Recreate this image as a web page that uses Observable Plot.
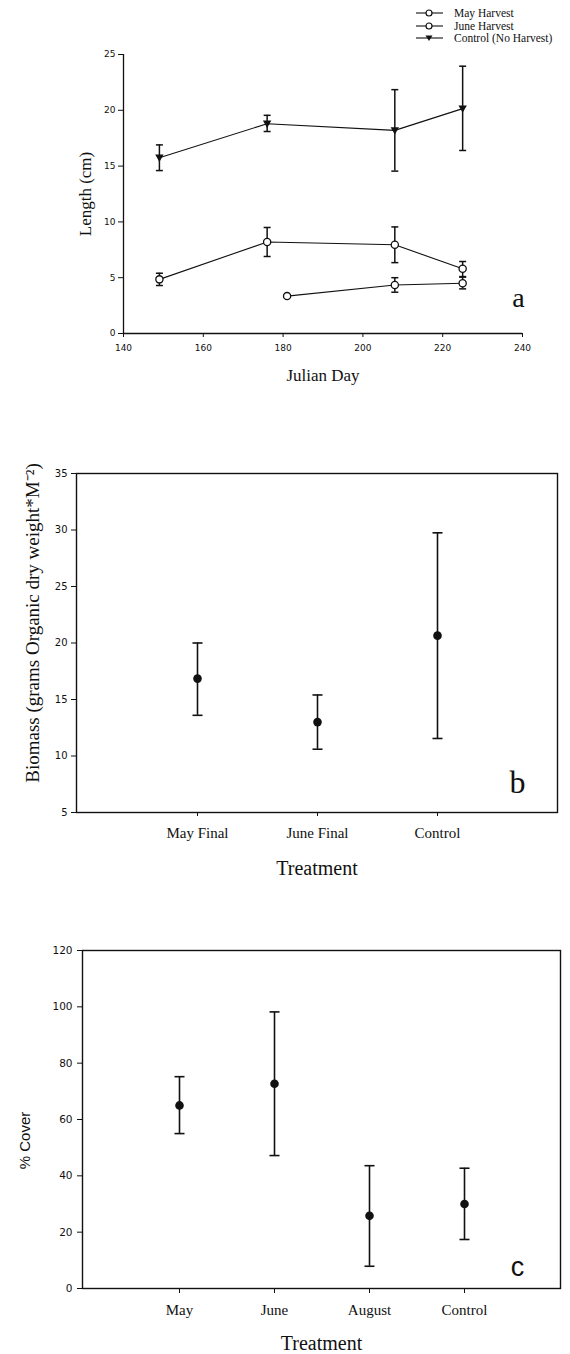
<!DOCTYPE html>
<html>
<head>
<meta charset="utf-8">
<script src="https://cdn.jsdelivr.net/npm/d3@7"></script>
<script src="https://cdn.jsdelivr.net/npm/@observablehq/plot@0.6"></script>
<style>
  html, body { margin: 0; padding: 0; background: #fff; }
  #chart { position: relative; width: 570px; height: 1354px; }
  #chart svg { display: block; overflow: visible; }
  .legend { position: absolute; left: 416px; top: 7px; font-family: "Liberation Serif", serif; font-size: 11.5px; color: #111; }
  .legend .row { display: flex; align-items: center; height: 12.5px; white-space: nowrap; }
  .legend svg { margin-right: 11px; }
</style>
</head>
<body>
<div id="chart"></div>
<script>
// ---------- Panel a: Length (cm) vs Julian Day ----------
const mayDays = [149, 176, 208, 225];
const mayLength = [4.85, 8.2, 7.95, 5.8];
const mayLow = [4.3, 6.9, 6.35, 5.1];
const mayHigh = [5.4, 9.5, 9.55, 6.45];

const juneDays = [181, 208, 225];
const juneLength = [3.35, 4.35, 4.5];
const juneLow = [3.25, 3.7, 4.0];
const juneHigh = [3.45, 5.0, 5.05];

const controlDays = [149, 176, 208, 225];
const controlLength = [15.75, 18.8, 18.2, 20.15];
const controlLow = [14.6, 18.1, 14.55, 16.4];
const controlHigh = [16.9, 19.55, 21.85, 23.95];

const dayTicks = [140, 160, 180, 200, 220, 240];
const lengthTicks = [0, 5, 10, 15, 20, 25];
const seriesNames = ["May Harvest", "June Harvest", "Control (No Harvest)"];

// ---------- Panel b: Biomass ----------
const biomassTreatments = ["May Final", "June Final", "Control"];
const biomassMean = [16.85, 13.0, 20.65];
const biomassLow = [13.6, 10.6, 11.55];
const biomassHigh = [20.0, 15.4, 29.75];
const biomassTicks = [5, 10, 15, 20, 25, 30, 35];

// ---------- Panel c: % Cover ----------
const coverTreatments = ["May", "June", "August", "Control"];
const coverMean = [65, 72.7, 25.8, 30];
const coverLow = [55, 47.2, 7.9, 17.4];
const coverHigh = [75.2, 98.2, 43.6, 42.7];
const coverTicks = [0, 20, 40, 60, 80, 100, 120];

// ---------- helpers ----------
const cap = { draw(ctx, size) { const r = Math.sqrt(size / Math.PI); ctx.moveTo(-r, 0); ctx.lineTo(r, 0); } };
const triDown = { draw(ctx, size) { const r = Math.sqrt(size / Math.PI); ctx.moveTo(-r, -0.75 * r); ctx.lineTo(r, -0.75 * r); ctx.lineTo(0, 1.0 * r); ctx.closePath(); } };

function rows(xs, ys, lo, hi) { return xs.map((x, i) => ({x, y: ys[i], lo: lo[i], hi: hi[i]})); }

const SANS = "DejaVu Sans, sans-serif";
const SERIF = "Liberation Serif, serif";
const INK = "#111";
const CENTER = {textAnchor: "middle", lineAnchor: "middle"};

const chart = document.getElementById("chart");

function errMarks(d, capR, sw) {
  return [
    Plot.ruleX(d, {x: "x", y1: "lo", y2: "hi", stroke: INK, strokeWidth: sw}),
    Plot.dot(d, {x: "x", y: "hi", symbol: cap, r: capR, stroke: INK, strokeWidth: sw}),
    Plot.dot(d, {x: "x", y: "lo", symbol: cap, r: capR, stroke: INK, strokeWidth: sw})
  ];
}

// ---------- Panel a ----------
const may = rows(mayDays, mayLength, mayLow, mayHigh);
const june = rows(juneDays, juneLength, juneLow, juneHigh);
const ctrl = rows(controlDays, controlLength, controlLow, controlHigh);

const plotA = Plot.plot({
  width: 570, height: 400,
  marginTop: 54, marginBottom: 67, marginLeft: 123, marginRight: 48,
  style: {fontFamily: SANS, background: "white", color: INK},
  x: {domain: [140, 240], ticks: dayTicks},
  y: {domain: [0, 25], ticks: lengthTicks},
  marks: [
    Plot.axisX({ticks: dayTicks, tickSize: 4, tickPadding: 7, fontSize: 9, label: null, stroke: INK}),
    Plot.axisY({ticks: lengthTicks, tickSize: 5, tickPadding: 3, fontSize: 9, label: null, stroke: INK}),
    Plot.ruleX([140], {stroke: INK, strokeWidth: 1.3}),
    Plot.ruleY([0], {stroke: INK, strokeWidth: 1.3}),
    Plot.line(ctrl, {x: "x", y: "y", stroke: INK, strokeWidth: 1.1}),
    Plot.line(may, {x: "x", y: "y", stroke: INK, strokeWidth: 1.1}),
    Plot.line(june, {x: "x", y: "y", stroke: INK, strokeWidth: 1.1}),
    ...errMarks(ctrl, 3.5, 1.5),
    ...errMarks(may, 3.5, 1.5),
    ...errMarks(june, 3.5, 1.5),
    Plot.dot(ctrl, {x: "x", y: "y", symbol: triDown, r: 4.2, fill: INK, stroke: "none"}),
    Plot.dot(may, {x: "x", y: "y", r: 3.6, fill: "white", stroke: INK, strokeWidth: 1.3}),
    Plot.dot(june, {x: "x", y: "y", r: 3.6, fill: "white", stroke: INK, strokeWidth: 1.3}),
    Plot.text(["Julian Day"], {frameAnchor: "bottom", dy: 42, ...CENTER, fontFamily: SERIF, fontSize: 17, fill: INK}),
    Plot.text(["Length (cm)"], {frameAnchor: "left", rotate: -90, dx: -38, ...CENTER, fontFamily: SERIF, fontSize: 17, fill: INK}),
    Plot.text(["a"], {frameAnchor: "bottom-right", dx: -4, dy: -35, ...CENTER, fontFamily: SERIF, fontSize: 28, fill: INK})
  ]
});
chart.appendChild(plotA);

// Legend (HTML, above panel a)
const legend = document.createElement("div");
legend.className = "legend";
seriesNames.forEach((name, i) => {
  const row = document.createElement("div");
  row.className = "row";
  const marker = i < 2
    ? `<circle cx="13" cy="6" r="3" fill="white" stroke="${INK}" stroke-width="1.2"/>`
    : `<path d="M9.5,3.5 L16.5,3.5 L13,9 Z" fill="${INK}"/>`;
  row.innerHTML = `<svg width="27" height="12"><line x1="0" x2="27" y1="6" y2="6" stroke="${INK}" stroke-width="1.1"/>${marker}</svg><span>${name}</span>`;
  legend.appendChild(row);
});
chart.appendChild(legend);

// ---------- Panel b ----------
const bio = rows(biomassTreatments, biomassMean, biomassLow, biomassHigh);
const plotB = Plot.plot({
  width: 570, height: 500,
  marginTop: 73, marginBottom: 88, marginLeft: 76, marginRight: 13,
  style: {fontFamily: SANS, background: "white", color: INK},
  x: {type: "point", domain: biomassTreatments, padding: 1},
  y: {domain: [5, 35], ticks: biomassTicks},
  marks: [
    Plot.frame({stroke: INK, strokeWidth: 1.4}),
    Plot.axisX({tickSize: 4, tickPadding: 11, fontSize: 15, fontFamily: SERIF, label: null, stroke: INK}),
    Plot.axisY({ticks: biomassTicks, tickSize: 5, tickPadding: 4, fontSize: 10, label: null, stroke: INK}),
    ...errMarks(bio, 5, 1.6),
    Plot.dot(bio, {x: "x", y: "y", r: 4.3, fill: INK, stroke: "none"}),
    Plot.text(["Treatment"], {frameAnchor: "bottom", dy: 56, ...CENTER, fontFamily: SERIF, fontSize: 20, fill: INK}),
    Plot.text(["Biomass (grams Organic dry weight*M\u207B\u00B2)"], {frameAnchor: "left", rotate: -90, dx: -44, dy: -20, ...CENTER, fontFamily: SERIF, fontSize: 19, fill: INK}),
    Plot.text(["b"], {frameAnchor: "bottom-right", dx: -40, dy: -30, ...CENTER, fontFamily: SERIF, fontSize: 32, fill: INK})
  ]
});
chart.appendChild(plotB);

// ---------- Panel c ----------
const cov = rows(coverTreatments, coverMean, coverLow, coverHigh);
const plotC = Plot.plot({
  width: 570, height: 454,
  marginTop: 50, marginBottom: 66, marginLeft: 82, marginRight: 10,
  style: {fontFamily: SANS, background: "white", color: INK},
  x: {type: "point", domain: coverTreatments, padding: 1},
  y: {domain: [0, 120], ticks: coverTicks},
  marks: [
    Plot.frame({stroke: INK, strokeWidth: 1.4}),
    Plot.axisX({tickSize: 5, tickPadding: 11, fontSize: 15, fontFamily: SERIF, label: null, stroke: INK}),
    Plot.axisY({ticks: coverTicks, tickSize: 5, tickPadding: 5, fontSize: 10.5, label: null, stroke: INK}),
    ...errMarks(cov, 5, 1.6),
    Plot.dot(cov, {x: "x", y: "y", r: 4.3, fill: INK, stroke: "none"}),
    Plot.text(["Treatment"], {frameAnchor: "bottom", dy: 55, ...CENTER, fontFamily: SERIF, fontSize: 20, fill: INK}),
    Plot.text(["% Cover"], {frameAnchor: "left", rotate: -90, dx: -57, dy: 21, ...CENTER, fontFamily: "Liberation Sans, sans-serif", fontSize: 15, fill: INK}),
    Plot.text(["c"], {frameAnchor: "bottom-right", dx: -43, dy: -21, ...CENTER, fontFamily: "Liberation Sans, sans-serif", fontSize: 27, fill: INK})
  ]
});
chart.appendChild(plotC);
</script>
</body>
</html>
